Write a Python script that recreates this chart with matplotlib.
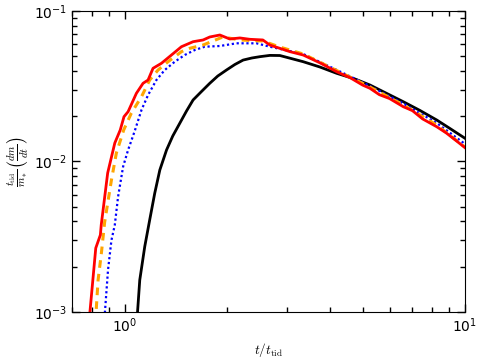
import matplotlib
matplotlib.use("Agg")
import matplotlib.pyplot as plt
from matplotlib.ticker import NullFormatter

# values
red_x = [0.785, 0.822, 0.848, 0.853, 0.891, 0.935, 0.970, 0.995, 1.023, 1.082, 1.132,
         1.171, 1.211, 1.282, 1.372, 1.468, 1.588, 1.699, 1.778, 1.903, 2.036, 2.18,
         2.332, 2.546, 2.67, 3.057, 3.345, 3.75, 4.195, 4.6, 5.0, 5.255, 5.6, 6.0,
         6.586, 7.0, 7.5, 8.257, 8.8, 9.4, 10.0]
red_y = [0.00085, 0.00266, 0.00325, 0.00379, 0.00839, 0.01327, 0.01619, 0.01985, 0.02143,
         0.02838, 0.03309, 0.03478, 0.04162, 0.04493, 0.05101, 0.05791, 0.06252, 0.06418,
         0.0672, 0.06927, 0.06516, 0.0662, 0.06486, 0.0642, 0.0594, 0.0537, 0.0510,
         0.0452, 0.03951, 0.0360, 0.0322, 0.03064, 0.0278, 0.0262, 0.02312, 0.0218,
         0.0192, 0.01702, 0.0155, 0.0138, 0.01235]

orange_x = [0.82, 0.835, 0.854, 0.873, 0.914, 0.945, 0.993, 1.046, 1.12, 1.184, 1.253,
            1.341, 1.468, 1.553, 1.699, 1.942, 2.18, 2.546, 2.857, 3.345, 4.195, 5.255,
            6.586, 8.257, 10.0]
orange_y = [0.00085, 0.00163, 0.00247, 0.00396, 0.00754, 0.01139, 0.01619, 0.021, 0.02695,
            0.03478, 0.04055, 0.04604, 0.0537, 0.05651, 0.05943, 0.0672, 0.0642, 0.0632,
            0.0576, 0.0518, 0.04025, 0.03126, 0.02374, 0.01747, 0.01245]

blue_x = [0.87, 0.893, 0.914, 0.935, 0.956, 0.989, 1.023, 1.07, 1.12, 1.171, 1.239, 1.311,
          1.403, 1.501, 1.607, 1.719, 1.903, 2.13, 2.44, 2.67, 3.057, 3.345, 4.195, 5.255,
          6.586, 8.257, 10.0]
blue_y = [0.00085, 0.0019, 0.003, 0.00379, 0.00584, 0.00924, 0.01193, 0.01595, 0.022,
          0.02766, 0.03478, 0.04055, 0.04604, 0.05101, 0.05507, 0.05791, 0.05853, 0.061,
          0.061, 0.0579, 0.0542, 0.0518, 0.0406, 0.03175, 0.02429, 0.01803, 0.01307]

black_x = [1.085, 1.107, 1.145, 1.184, 1.225, 1.268, 1.327, 1.384, 1.451, 1.519, 1.588,
           1.681, 1.778, 1.877, 1.991, 2.107, 2.228, 2.363, 2.495, 2.67, 2.857, 3.345,
           3.746, 4.195, 4.75, 5.255, 5.856, 6.586, 7.373, 8.257, 9.03, 10.0]
black_y = [0.00085, 0.00163, 0.00272, 0.00409, 0.00615, 0.00878, 0.01193, 0.01477, 0.01794,
           0.02165, 0.02563, 0.02918, 0.03309, 0.03699, 0.04055, 0.04411, 0.0472, 0.04872,
           0.04971, 0.0507, 0.0506, 0.04604, 0.04245, 0.03855, 0.03533, 0.03223, 0.02851,
           0.02496, 0.02183, 0.01887, 0.01657, 0.01426]

fig = plt.figure(figsize=(4.85, 3.63), dpi=100)
ax = fig.add_axes([0.1485, 0.1405, 0.8103, 0.8292])

ax.plot(black_x, black_y, color="black", lw=2.0)
ax.plot(blue_x, blue_y, color="blue", lw=1.6, linestyle=(0, (1, 1.2)))
ax.plot(orange_x, orange_y, color="orange", lw=2.2, linestyle=(0, (2.5, 2)))
ax.plot(red_x, red_y, color="red", lw=2.0)

ax.set_xscale("log")
ax.set_yscale("log")
ax.set_xlim(0.7, 10)
ax.set_ylim(1e-3, 1e-1)
ax.xaxis.set_minor_formatter(NullFormatter())
ax.yaxis.set_minor_formatter(NullFormatter())

ax.tick_params(which="both", direction="in", top=True, right=True, labelsize=10)
ax.tick_params(which="major", length=6, width=1.0)
ax.tick_params(which="minor", length=3.5, width=1.0)

ax.set_xlabel(r"$t/t_{\rm tid}$", fontsize=9.5, math_fontfamily="cm", labelpad=4)
ax.set_ylabel(r"$\frac{t_{\rm tid}}{m_*}\left(\frac{dm}{dt}\right)$", fontsize=11,
              math_fontfamily="cm", labelpad=2)

fig.savefig("out.png", dpi=100)
